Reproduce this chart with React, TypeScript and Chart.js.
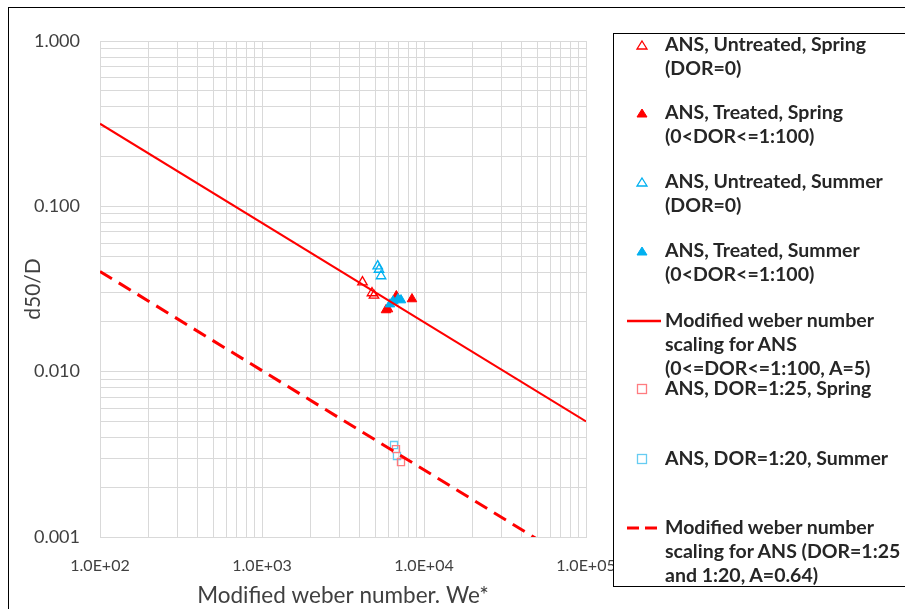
import React, { useEffect, useRef } from "react";
import { Chart, registerables } from "chart.js";

Chart.register(...registerables);

// ---- data ----
const untreatedSpringX = [4170, 4775, 4913];
const untreatedSpringY = [0.0348, 0.0299, 0.0289];

const treatedSpringX = [5825, 5995, 6750, 8430];
const treatedSpringY = [0.0236, 0.0239, 0.0287, 0.0275];

const untreatedSummerX = [5180, 5275, 5430];
const untreatedSummerY = [0.0435, 0.0415, 0.0379];

const treatedSummerX = [6170, 6440, 6915, 7210];
const treatedSummerY = [0.0256, 0.0267, 0.0275, 0.0271];

const dor125SpringX = [6715, 7210];
const dor125SpringY = [0.0034, 0.00284];

const dor120SummerX = [6530, 6810];
const dor120SummerY = [0.0036, 0.00309];

const solidLineX = [100, 100000];
const solidLineY = [0.316, 0.005];

const dashedLineX = [100, 100000];
const dashedLineY = [0.0404, 0.00064];

const xDecades = [100, 1000, 10000, 100000];
const xTickLabels = ["1.0E+02", "1.0E+03", "1.0E+04", "1.0E+05"];
const yDecades = [0.001, 0.01, 0.1, 1];
const yTickLabels = ["0.001", "0.010", "0.100", "1.000"];
const multipliers = [1, 2, 3, 4, 5, 6, 7, 8, 9];

const RED = "#FF0000";
const BLUE = "#00B0F0";

const pts = (xs: number[], ys: number[]) => xs.map((x, i) => ({ x, y: ys[i] }));

const minorTicks = (decades: number[]) => {
  const out: { value: number }[] = [];
  decades.forEach((d, i) => {
    if (i === decades.length - 1) {
      out.push({ value: d });
    } else {
      multipliers.forEach((m) => out.push({ value: +(d * m).toPrecision(6) }));
    }
  });
  return out;
};

const labelFor = (v: number, decades: number[], labels: string[]) => {
  for (let i = 0; i < decades.length; i++) {
    if (Math.abs(v - decades[i]) / decades[i] < 1e-6) return labels[i];
  }
  return "";
};

const FONT = "Lato, 'Open Sans', sans-serif";

function LegendMarker({ kind }: { kind: string }) {
  if (kind === "triOpenRed" || kind === "triOpenBlue") {
    const c = kind === "triOpenRed" ? RED : BLUE;
    return (
      <svg width="40" height="14" style={{ display: "block" }}>
        <polygon points="17,3 22,11 12,11" fill="white" stroke={c} strokeWidth="1.3" />
      </svg>
    );
  }
  if (kind === "triRed" || kind === "triBlue") {
    const c = kind === "triRed" ? RED : BLUE;
    return (
      <svg width="40" height="14" style={{ display: "block" }}>
        <polygon points="17,3 22,11 12,11" fill={c} stroke={c} strokeWidth="1" />
      </svg>
    );
  }
  if (kind === "sqRed" || kind === "sqBlue") {
    const c = kind === "sqRed" ? "#FF7C80" : "#66CCF2";
    return (
      <svg width="40" height="14" style={{ display: "block" }}>
        <rect x="12.5" y="2.5" width="9" height="9" fill="white" stroke={c} strokeWidth="1.3" />
      </svg>
    );
  }
  if (kind === "line") {
    return (
      <svg width="40" height="14" style={{ display: "block" }}>
        <line x1="2" y1="7" x2="36" y2="7" stroke={RED} strokeWidth="2.5" />
      </svg>
    );
  }
  return (
    <svg width="40" height="14" style={{ display: "block" }}>
      <line x1="2" y1="7" x2="36" y2="7" stroke={RED} strokeWidth="3" strokeDasharray="12 6" />
    </svg>
  );
}

const legendItems = [
  { kind: "triOpenRed", lines: ["ANS, Untreated, Spring", "(DOR=0)"], top: 32 },
  { kind: "triRed", lines: ["ANS, Treated, Spring", "(0<DOR<=1:100)"], top: 100 },
  { kind: "triOpenBlue", lines: ["ANS, Untreated, Summer", "(DOR=0)"], top: 169 },
  { kind: "triBlue", lines: ["ANS, Treated, Summer", "(0<DOR<=1:100)"], top: 238 },
  { kind: "line", lines: ["Modified weber number", "scaling for ANS", "(0<=DOR<=1:100, A=5)"], top: 308 },
  { kind: "sqRed", lines: ["ANS, DOR=1:25, Spring"], top: 376 },
  { kind: "sqBlue", lines: ["ANS, DOR=1:20, Summer"], top: 446 },
  { kind: "dash", lines: ["Modified weber number", "scaling for ANS (DOR=1:25", "and 1:20, A=0.64)"], top: 515 },
];

export default function App() {
  const canvasRef = useRef<HTMLCanvasElement | null>(null);

  useEffect(() => {
    const ctx = canvasRef.current!.getContext("2d")!;
    const chart = new Chart(ctx, {
      type: "scatter",
      data: {
        datasets: [
          {
            label: "solid",
            data: pts(solidLineX, solidLineY),
            showLine: true,
            borderColor: RED,
            borderWidth: 2,
            pointRadius: 0,
            order: -2,
          },
          {
            label: "dashed",
            data: pts(dashedLineX, dashedLineY),
            showLine: true,
            borderColor: RED,
            borderWidth: 3,
            borderDash: [14, 8],
            pointRadius: 0,
            order: -2,
          },
          {
            label: "untreated spring",
            data: pts(untreatedSpringX, untreatedSpringY),
            pointStyle: "triangle",
            pointRadius: 5.5,
            backgroundColor: "rgba(255,255,255,0)",
            borderColor: RED,
            borderWidth: 1.3,
          },
          {
            label: "treated spring",
            data: pts(treatedSpringX, treatedSpringY),
            pointStyle: "triangle",
            pointRadius: 5.5,
            backgroundColor: RED,
            borderColor: RED,
            borderWidth: 1,
          },
          {
            label: "untreated summer",
            data: pts(untreatedSummerX, untreatedSummerY),
            pointStyle: "triangle",
            pointRadius: 5.5,
            backgroundColor: "rgba(255,255,255,0)",
            borderColor: BLUE,
            borderWidth: 1.3,
          },
          {
            label: "treated summer",
            data: pts(treatedSummerX, treatedSummerY),
            pointStyle: "triangle",
            pointRadius: 5.5,
            backgroundColor: BLUE,
            borderColor: BLUE,
            borderWidth: 1,
            order: -1,
          },
          {
            label: "dor 1:25 spring",
            data: pts(dor125SpringX, dor125SpringY),
            pointStyle: "rect",
            pointRadius: 5,
            backgroundColor: "rgba(255,255,255,0)",
            borderColor: "#FF7C80",
            borderWidth: 1.3,
          },
          {
            label: "dor 1:20 summer",
            data: pts(dor120SummerX, dor120SummerY),
            pointStyle: "rect",
            pointRadius: 5,
            backgroundColor: "rgba(255,255,255,0)",
            borderColor: "#66CCF2",
            borderWidth: 1.3,
          },
        ],
      },
      options: {
        animation: false,
        responsive: false,
        maintainAspectRatio: false,
        layout: { padding: { top: 33, right: 63, left: 0, bottom: 0 } },
        plugins: { legend: { display: false }, tooltip: { enabled: false } },
        scales: {
          x: {
            type: "logarithmic",
            min: 100,
            max: 100000,
            afterBuildTicks: (s: any) => {
              s.ticks = minorTicks(xDecades);
            },
            afterFit: (s: any) => {
              s.height = 76;
            },
            grid: { color: "#D9D9D9", drawTicks: false, lineWidth: 1 },
            border: { color: "#D9D9D9" },
            ticks: {
              autoSkip: false,
              maxRotation: 0,
              padding: 19,
              color: "#404040",
              font: { family: FONT, size: 16 },
              callback: (v: any) => labelFor(Number(v), xDecades, xTickLabels),
            },
            title: {
              display: true,
              text: "Modified weber number. We*",
              color: "#404040",
              font: { family: FONT, size: 22.5 },
              padding: { top: 0, bottom: 4 },
            },
          },
          y: {
            type: "logarithmic",
            min: 0.001,
            max: 1,
            afterBuildTicks: (s: any) => {
              s.ticks = minorTicks(yDecades);
            },
            afterFit: (s: any) => {
              s.width = 91;
            },
            grid: { color: "#D9D9D9", drawTicks: false, lineWidth: 1 },
            border: { color: "#D9D9D9" },
            ticks: {
              autoSkip: false,
              padding: 20,
              color: "#404040",
              font: { family: FONT, size: 18 },
              callback: (v: any) => labelFor(Number(v), yDecades, yTickLabels),
            },
            title: {
              display: true,
              text: "d50/D",
              color: "#404040",
              font: { family: FONT, size: 21 },
              padding: { top: 12, bottom: 0 },
            },
          },
        },
      },
    } as any);
    return () => chart.destroy();
  }, []);

  return (
    <div
      style={{
        position: "absolute",
        left: 8,
        top: 7,
        width: 1000,
        height: 700,
        border: "1px solid #000",
        boxSizing: "border-box",
        overflow: "hidden",
        background: "#fff",
      }}
    >
      <canvas
        ref={canvasRef}
        width={640}
        height={605}
        style={{ position: "absolute", left: 0, top: 0, width: 640, height: 605 }}
      />
      <div
        style={{
          position: "absolute",
          left: 604,
          top: 25,
          width: 400,
          height: 554,
          border: "1.5px solid #000",
          background: "#fff",
          boxSizing: "border-box",
        }}
      />
      {legendItems.map((it, i) => (
        <div key={i} style={{ position: "absolute", left: 616, top: it.top - 8, display: "flex" }}>
          <div style={{ width: 40, paddingTop: 6 }}>
            <LegendMarker kind={it.kind} />
          </div>
          <div
            style={{
              fontFamily: FONT,
              fontWeight: 700,
              fontSize: 19.5,
              lineHeight: "24px",
              color: "#262626",
              whiteSpace: "nowrap",
            }}
          >
            {it.lines.map((l, j) => (
              <div key={j}>{l}</div>
            ))}
          </div>
        </div>
      ))}
    </div>
  );
}
